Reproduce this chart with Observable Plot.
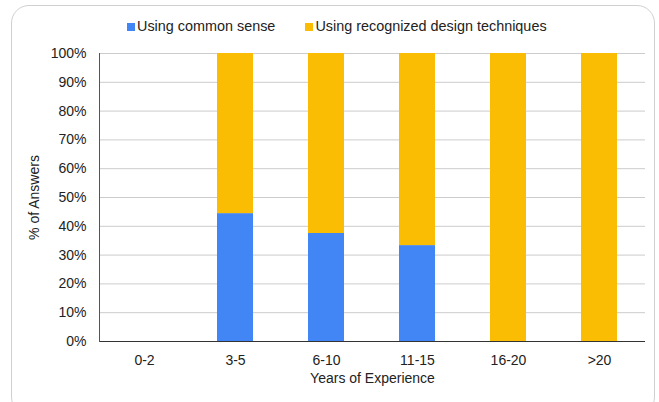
<!DOCTYPE html>
<html>
<head>
<meta charset="utf-8">
<script src="https://cdn.jsdelivr.net/npm/d3@7"></script>
<script src="https://cdn.jsdelivr.net/npm/@observablehq/plot@0.6"></script>
<style>
  html, body { margin: 0; padding: 0; background: #fff; }
  #wrap { position: relative; width: 659px; height: 402px; overflow: hidden; font-family: "Liberation Sans", Arial, sans-serif; }
  #border { position: absolute; left: 11px; top: 5px; width: 644px; height: 410px; border: 1.5px solid #d0d0d0; border-radius: 18px; box-sizing: border-box; }
  #legend { position: absolute; top: 17px; left: 127px; font-size: 14.4px; color: #222; display: flex; align-items: center; height: 18px; }
  #legend .sw { display: inline-block; width: 8px; height: 8px; margin-right: 2px; position: relative; top: 1px; }
  #legend .item { display: flex; align-items: center; margin-right: 30px; }
  #chart { position: absolute; left: 0; top: 0; }
</style>
</head>
<body>
<div id="wrap">
  <div id="border"></div>
  <div id="chart"></div>
  <div id="legend"></div>
</div>
<script>
const categories = ["0-2", "3-5", "6-10", "11-15", "16-20", ">20"];
const seriesNames = ["Using common sense", "Using recognized design techniques"];
const commonSense = [0, 44.4, 37.5, 33.3, 0, 0];
const designTechniques = [0, 55.6, 62.5, 66.7, 100, 100];
const colors = ["#4285F4", "#FBBC04"];
const yTicks = [0, 10, 20, 30, 40, 50, 60, 70, 80, 90, 100];

const data = [];
categories.forEach((c, i) => {
  data.push({category: c, series: seriesNames[0], value: commonSense[i]});
  data.push({category: c, series: seriesNames[1], value: designTechniques[i]});
});

const legend = document.getElementById("legend");
seriesNames.forEach((s, i) => {
  const item = document.createElement("span");
  item.className = "item";
  item.innerHTML = `<span class="sw" style="background:${colors[i]}"></span>${s}`;
  legend.appendChild(item);
});

const chart = Plot.plot({
  width: 659,
  height: 402,
  marginTop: 53,
  marginBottom: 61,
  marginLeft: 99,
  marginRight: 14,
  style: {fontFamily: "Liberation Sans, Arial, sans-serif", fontSize: "14px", color: "#222", background: "transparent"},
  x: {domain: categories, paddingInner: 0.6, paddingOuter: 0.3},
  y: {domain: [0, 100]},
  color: {domain: seriesNames, range: colors},
  marks: [
    Plot.ruleY(yTicks.filter(d => d > 0), {stroke: "#cccccc", strokeWidth: 1}),
    Plot.barY(data, {x: "category", y: "value", fill: "series", order: seriesNames}),
    Plot.ruleY([0], {stroke: "#333", strokeWidth: 1}),
    Plot.frame({anchor: "left", stroke: "#555"}),
    Plot.axisY({ticks: yTicks, tickSize: 0, tickPadding: 13, tickFormat: d => d + "%", label: "% of Answers", labelArrow: "none", labelAnchor: "center", labelOffset: 70, fontSize: 14}),
    Plot.axisX({tickSize: 0, tickPadding: 14, label: "Years of Experience", labelArrow: "none", labelAnchor: "center", labelOffset: 41, fontSize: 14})
  ]
});
document.getElementById("chart").appendChild(chart);
</script>
</body>
</html>
